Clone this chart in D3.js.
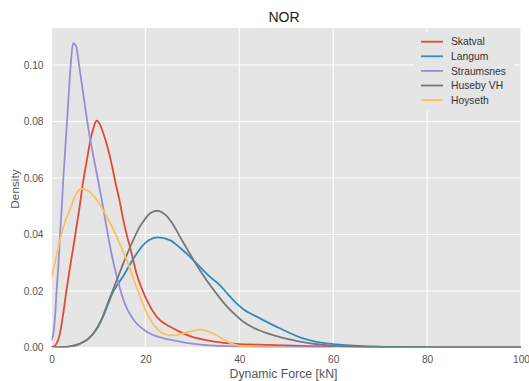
<!DOCTYPE html>
<html>
<head>
<meta charset="utf-8">
<script src="https://cdn.jsdelivr.net/npm/d3@7"></script>
<style>
  html, body { margin: 0; padding: 0; background: #ffffff; }
  svg { display: block; }
  text { font-family: "Liberation Sans", Arial, sans-serif; }
</style>
</head>
<body>
<svg id="chart" width="529" height="381"></svg>
<script>
// ---- data (x = Dynamic Force [kN], y = density) ----
const seriesNames = ["Skatval", "Langum", "Straumsnes", "Huseby VH", "Hoyseth"];
const seriesColors = ["#E24A33", "#348ABD", "#988ED5", "#777777", "#FBC15E"];

const skatval = [
  [0,0.0003],[0.4,0.0004],[1,0.0012],[1.8,0.005],[2.5,0.012],[3.2,0.0204],[4,0.029],[5,0.0392],
  [6,0.050],[6.8,0.0593],[7.5,0.066],[8.3,0.0735],[9,0.078],[9.6,0.0803],[10.3,0.079],[11,0.076],
  [12,0.0705],[13,0.0635],[13.5,0.0593],[14.5,0.052],[15.3,0.0451],[16,0.040],[16.7,0.0357],
  [18.1,0.0263],[20.3,0.0168],[22.4,0.0109],[25.2,0.0074],[27.3,0.0056],[29.5,0.0040],
  [34.4,0.0022],[39.4,0.0013],[46.5,0.0009],[55,0.0005],[65,0.0002],[80,0.00005],[100,0]
];
const langum = [
  [0.5,0],[2,0.0001],[4,0.0004],[6,0.0013],[7,0.0021],[8,0.0033],[9,0.0051],[10,0.0076],
  [11,0.0110],[12,0.0152],[13.1,0.0196],[14.2,0.0226],[15.3,0.0253],[16.7,0.0294],[18.8,0.0348],
  [19.5,0.0362],[21,0.0382],[22.7,0.039],[25.2,0.038],[27.3,0.0354],[29.5,0.0321],[31.6,0.0286],
  [33.7,0.0251],[35.8,0.0222],[37.5,0.0190],[39.4,0.0156],[41,0.0134],[43,0.0115],[45.1,0.0097],
  [48.6,0.0068],[52.9,0.0036],[56,0.0022],[60,0.0012],[68,0.0004],[75,0.0001],[85,0],[100,0]
];
const straumsnes = [
  [0,0.0025],[0.4,0.005],[0.8,0.012],[1.1,0.0204],[1.5,0.030],[1.8,0.0392],[2.2,0.050],[2.5,0.0593],
  [3,0.072],[3.5,0.085],[4,0.098],[4.6,0.1077],[5.2,0.1068],[6,0.0985],[7,0.087],[8,0.076],
  [9,0.067],[10,0.0585],[11,0.0495],[12,0.040],[13,0.0315],[14,0.0245],[15,0.0185],[16,0.014],
  [17.4,0.0100],[20.3,0.0056],[23.8,0.0033],[27.3,0.0021],[32.3,0.0009],[40,0.0003],[50,0.0001],[60,0]
];
const husebyVH = [
  [0.5,0],[2,0.0001],[4,0.0004],[6,0.0013],[7,0.0021],[8,0.0033],[9,0.0052],[10,0.0078],
  [11,0.0113],[12,0.0157],[13.1,0.0204],[15.3,0.0298],[17.4,0.038],[18.8,0.0428],[19.5,0.0445],
  [21,0.0475],[22.5,0.0484],[23.5,0.0479],[24.5,0.0466],[25.5,0.0445],[26.5,0.0418],[27.5,0.0388],
  [28.8,0.0351],[30.9,0.0292],[33,0.0239],[35,0.0194],[37,0.0152],[39,0.0118],[40.8,0.0092],
  [43,0.0070],[46.5,0.0047],[52.9,0.0021],[60,0.0006],[70,0.0001],[80,0],[100,0]
];
const hoyseth = [
  [0,0.025],[0.5,0.0285],[1,0.032],[1.8,0.038],[2.8,0.044],[3.9,0.0487],[5,0.0535],[6.4,0.0562],
  [7.5,0.0558],[8.9,0.0538],[11,0.0487],[13.9,0.0392],[16,0.031],[18.1,0.0215],[20.3,0.0121],
  [22.4,0.0068],[24.5,0.0046],[26,0.0043],[28,0.005],[30,0.0058],[31.6,0.0063],[33,0.0059],
  [35,0.0045],[37,0.0025],[39,0.001],[41,0.0003],[45,0.00005],[50,0]
];
const seriesData = [skatval, langum, straumsnes, husebyVH, hoyseth];

const xTicks = [0, 20, 40, 60, 80, 100];
const yTicks = [0, 0.02, 0.04, 0.06, 0.08, 0.10];
const titleText = "NOR";
const xLabel = "Dynamic Force [kN]";
const yLabel = "Density";

// ---- layout ----
const svg = d3.select("#chart");
const plot = { left: 51.5, right: 521, top: 28, bottom: 347.5 };

const x = d3.scaleLinear().domain([0, 100]).range([plot.left, plot.right]);
const y = d3.scaleLinear().domain([0, 0.1131]).range([plot.bottom, plot.top]);

// background
svg.append("rect")
  .attr("x", plot.left).attr("y", plot.top)
  .attr("width", plot.right - plot.left).attr("height", plot.bottom - plot.top)
  .attr("fill", "#E5E5E5");

// grid
const grid = svg.append("g");
grid.selectAll("line.vg").data(xTicks).enter().append("line")
  .attr("x1", d => x(d)).attr("x2", d => x(d))
  .attr("y1", plot.top).attr("y2", plot.bottom)
  .attr("stroke", "#ffffff").attr("stroke-width", 1.1);
grid.selectAll("line.hg").data(yTicks).enter().append("line")
  .attr("y1", d => y(d)).attr("y2", d => y(d))
  .attr("x1", plot.left).attr("x2", plot.right)
  .attr("stroke", "#ffffff").attr("stroke-width", 1.1);

// axes (tick labels only)
const xAxis = d3.axisBottom(x).tickValues(xTicks).tickSize(0).tickPadding(8)
  .tickFormat(d3.format("d"));
const gx = svg.append("g").attr("transform", `translate(0,${plot.bottom})`).call(xAxis);
gx.select(".domain").remove();
gx.selectAll("text").attr("fill", "#555555").attr("font-size", "10.2px")
  .attr("font-family", "Liberation Sans, Arial, sans-serif");

const yAxis = d3.axisLeft(y).tickValues(yTicks).tickSize(0).tickPadding(8)
  .tickFormat(d3.format(".2f"));
const gy = svg.append("g").attr("transform", `translate(${plot.left},0)`).call(yAxis);
gy.select(".domain").remove();
gy.selectAll("text").attr("fill", "#555555").attr("font-size", "10.2px")
  .attr("font-family", "Liberation Sans, Arial, sans-serif");

// clip
svg.append("clipPath").attr("id", "clip").append("rect")
  .attr("x", plot.left).attr("y", plot.top - 2)
  .attr("width", plot.right - plot.left).attr("height", plot.bottom - plot.top + 2);

const line = d3.line()
  .x(d => x(d[0])).y(d => y(d[1]))
  .curve(d3.curveMonotoneX);

const lines = svg.append("g").attr("clip-path", "url(#clip)");
seriesData.forEach((s, i) => {
  lines.append("path")
    .attr("d", line(s))
    .attr("fill", "none")
    .attr("stroke", seriesColors[i])
    .attr("stroke-width", 1.8)
    .attr("stroke-linejoin", "round");
});

// legend
const legend = svg.append("g");
legend.append("rect")
  .attr("x", 414).attr("y", 32).attr("width", 100).attr("height", 79)
  .attr("fill", "#E5E5E5");
seriesNames.forEach((name, i) => {
  const cy = 41.7 + i * 14.6;
  legend.append("line")
    .attr("x1", 421).attr("x2", 443).attr("y1", cy).attr("y2", cy)
    .attr("stroke", seriesColors[i]).attr("stroke-width", 1.8);
  legend.append("text")
    .attr("x", 451).attr("y", cy).attr("dy", "0.35em")
    .attr("font-size", "10.3px").attr("fill", "#333333")
    .text(name);
});

// title and labels
svg.append("text")
  .attr("x", 284).attr("y", 21.5).attr("text-anchor", "middle")
  .attr("font-size", "14px").attr("fill", "#222222")
  .text(titleText);

svg.append("text")
  .attr("x", 283.5).attr("y", 378).attr("text-anchor", "middle")
  .attr("font-size", "12.3px").attr("fill", "#555555")
  .text(xLabel);

svg.append("text")
  .attr("transform", `translate(19,189) rotate(-90)`)
  .attr("text-anchor", "middle")
  .attr("font-size", "11.8px").attr("fill", "#555555")
  .text(yLabel);
</script>
</body>
</html>
